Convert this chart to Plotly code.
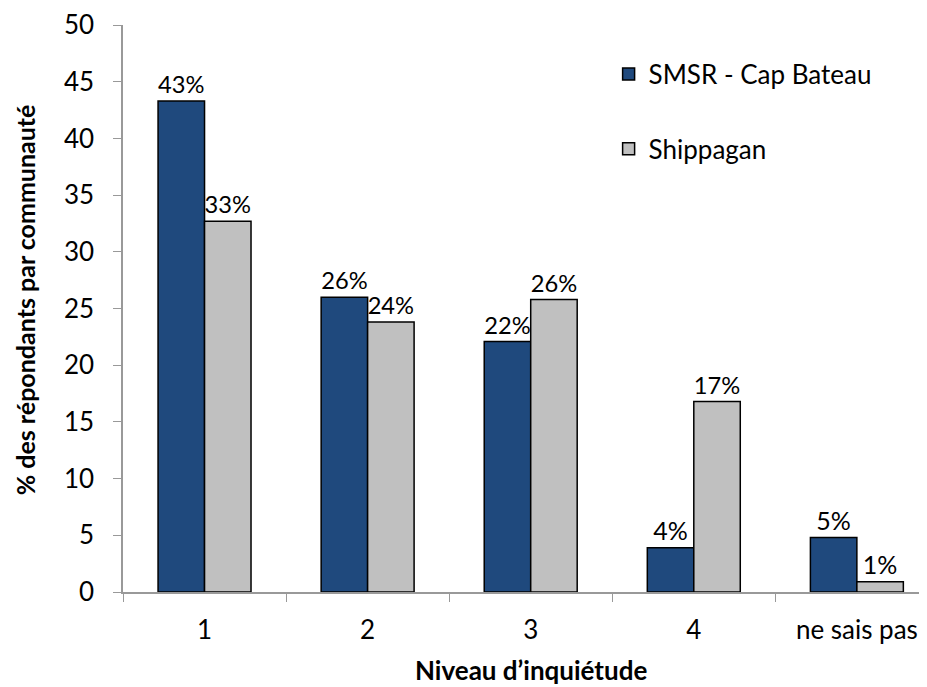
import plotly.graph_objects as go

categories = ["1", "2", "3", "4", "ne sais pas"]
smsr = [43.3, 26.0, 22.1, 3.9, 4.8]
shippagan = [32.7, 23.8, 25.8, 16.8, 0.9]
smsr_labels = ["43%", "26%", "22%", "4%", "5%"]
ship_labels = ["33%", "24%", "26%", "17%", "1%"]

FONT = "Lato, Open Sans, sans-serif"
FS = 26
LS = 25

fig = go.Figure()
fig.add_trace(go.Bar(
    x=categories, y=smsr, name="SMSR - Cap Bateau",
    marker=dict(color="#1F497D", line=dict(color="black", width=1.5)),
    text=smsr_labels, textposition="outside", cliponaxis=False,
    textfont=dict(size=LS, color="black", family=FONT),
    legendgroup="a",
))
fig.add_trace(go.Bar(
    x=categories, y=shippagan, name="Shippagan",
    marker=dict(color="#C0C0C0", line=dict(color="black", width=1.5)),
    text=ship_labels, textposition="outside", cliponaxis=False,
    textfont=dict(size=LS, color="black", family=FONT),
    legendgroup="b",
))

fig.update_layout(
    width=927, height=687,
    paper_bgcolor="white", plot_bgcolor="white",
    margin=dict(l=115, r=8, t=17, b=103, autoexpand=False),
    barmode="group", bargap=0.43, bargroupgap=0,
    font=dict(family=FONT, size=FS, color="black"),
    showlegend=True,
    legend=dict(x=0.604, y=0.955, xanchor="left", yanchor="top",
                font=dict(size=FS, family=FONT), tracegroupgap=38,
                bgcolor="rgba(0,0,0,0)"),
    xaxis=dict(
        range=[-0.5, 4.43], showline=True, linecolor="#999999", linewidth=1.5,
        ticks="outside", tickson="boundaries", ticklen=8, tickcolor="#999999",
        tickfont=dict(size=FS), showgrid=False, automargin=False,
        ticklabelstandoff=14,
    ),
    yaxis=dict(
        range=[0, 50], dtick=5, showline=True, linecolor="#999999", linewidth=1.5,
        ticks="outside", ticklen=8, tickcolor="#999999", showgrid=False,
        tickfont=dict(size=FS), zeroline=False, automargin=False,
        ticklabelstandoff=14,
    ),
    annotations=[
        dict(text="<b>Niveau d’inquiétude</b>", xref="paper", yref="paper",
             x=0.507, y=-0.1376, xanchor="center", yanchor="middle",
             showarrow=False, font=dict(size=26, family=FONT)),
        dict(text="<b>% des répondants par communauté</b>", xref="paper", yref="paper",
             x=-0.1215, y=0.515, xanchor="center", yanchor="middle", textangle=-90,
             showarrow=False, font=dict(size=25, family=FONT)),
    ],
)

fig.write_html("out.html")
